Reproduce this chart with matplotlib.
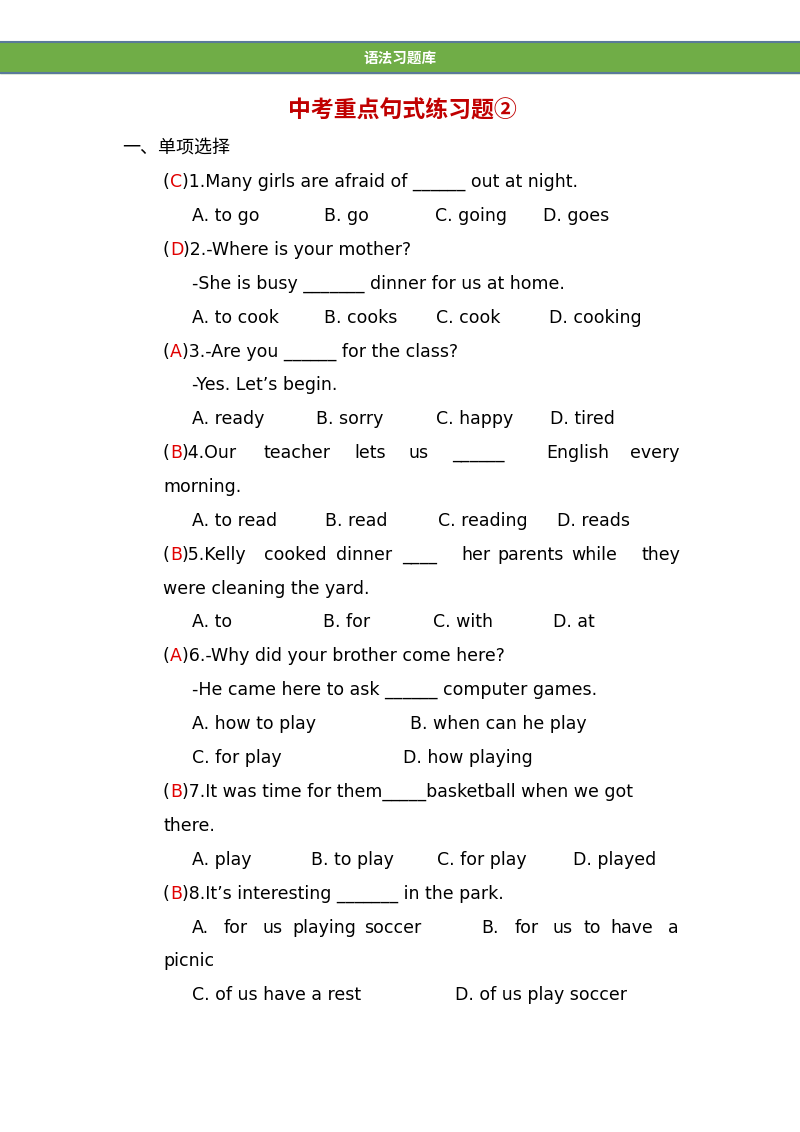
import matplotlib.pyplot as plt
from matplotlib.patches import Rectangle

plt.rcParams['font.family'] = ['Noto Sans CJK SC', 'DejaVu Sans']
body_font = ['DejaVu Sans', 'Noto Sans CJK SC']

W, H = 800, 1132
header = "语法习题库"
title = "中考重点句式练习题②"
section = "一、单项选择"

# each line: (y pixel, [(x pixel, text), ...]); "(X)" prefix gets a red answer letter
lines = [
    (181, [(163, "(C)1.Many girls are afraid of ______ out at night.")]),
    (215, [(192, "A. to go"), (324, "B. go"), (435, "C. going"), (543, "D. goes")]),
    (249, [(163, "(D)2.-Where is your mother?")]),
    (283, [(192, "-She is busy _______ dinner for us at home.")]),
    (317, [(192, "A. to cook"), (324, "B. cooks"), (436, "C. cook"), (549, "D. cooking")]),
    (351, [(163, "(A)3.-Are you ______ for the class?")]),
    (384, [(192, "-Yes. Let’s begin.")]),
    (418, [(192, "A. ready"), (316, "B. sorry"), (436, "C. happy"), (550, "D. tired")]),
    (452, [(163, "(B)4.Our"), (263, "teacher"), (354, "lets"), (408, "us"),
           (452, "______"), (546, "English"), (630, "every")]),
    (486, [(163, "morning.")]),
    (520, [(192, "A. to read"), (325, "B. read"), (438, "C. reading"), (557, "D. reads")]),
    (554, [(163, "(B)5.Kelly"), (264, "cooked"), (336, "dinner"), (402, "____"),
           (461, "her"), (497, "parents"), (571, "while"), (641, "they")]),
    (588, [(163, "were cleaning the yard.")]),
    (621, [(192, "A. to"), (323, "B. for"), (433, "C. with"), (553, "D. at")]),
    (655, [(163, "(A)6.-Why did your brother come here?")]),
    (689, [(192, "-He came here to ask ______ computer games.")]),
    (723, [(192, "A. how to play"), (410, "B. when can he play")]),
    (757, [(192, "C. for play"), (403, "D. how playing")]),
    (791, [(163, "(B)7.It was time for them_____basketball when we got")]),
    (825, [(163, "there.")]),
    (859, [(192, "A. play"), (311, "B. to play"), (437, "C. for play"), (573, "D. played")]),
    (893, [(163, "(B)8.It’s interesting _______ in the park.")]),
    (927, [(192, "A."), (224, "for"), (262, "us"), (292, "playing"), (364, "soccer"),
           (481, "B."), (515, "for"), (553, "us"), (584, "to"), (610, "have"), (668, "a")]),
    (960, [(163, "picnic")]),
    (994, [(192, "C. of us have a rest"), (455, "D. of us play soccer")]),
]

fig = plt.figure(figsize=(W / 100, H / 100), dpi=100)
ax = fig.add_axes([0, 0, 1, 1])
ax.set_xlim(0, W)
ax.set_ylim(H, 0)
ax.axis('off')

ax.add_patch(Rectangle((0, 42), W, 31, color='#70ad47', zorder=1))
ax.plot([0, W], [42, 42], color='#5a7a9a', lw=1.5, zorder=2)
ax.plot([0, W], [73, 73], color='#5a7a9a', lw=1.5, zorder=2)
ax.text(W / 2, 58, header, color='white', fontsize=10.5, fontweight='bold',
        ha='center', va='center')
ax.text(W / 2 + 2, 111, title, color='#c00000', fontsize=16.5, fontweight='bold',
        ha='center', va='center')
ax.text(122, 148, section, color='black', fontsize=13, ha='left', va='center')

fig.canvas.draw()
renderer = fig.canvas.get_renderer()
fs = 12.5


def put(x, y, txt, col):
    return ax.text(x, y + 1, txt, color=col, fontsize=fs, family=body_font,
                   ha='left', va='center')


def draw_pieces(x, y, pieces):
    for txt, col in pieces:
        t = put(x, y, txt, col)
        bb = t.get_window_extent(renderer=renderer)
        x += bb.width * W / fig.bbox.width


for y, items in lines:
    for x, s in items:
        if s.startswith('(') and len(s) > 2 and s[2] == ')':
            draw_pieces(x, y, [('(', 'black'), (s[1], '#e00000'), (s[2:], 'black')])
        else:
            put(x, y, s, 'black')

fig.savefig('out.png', dpi=100)
